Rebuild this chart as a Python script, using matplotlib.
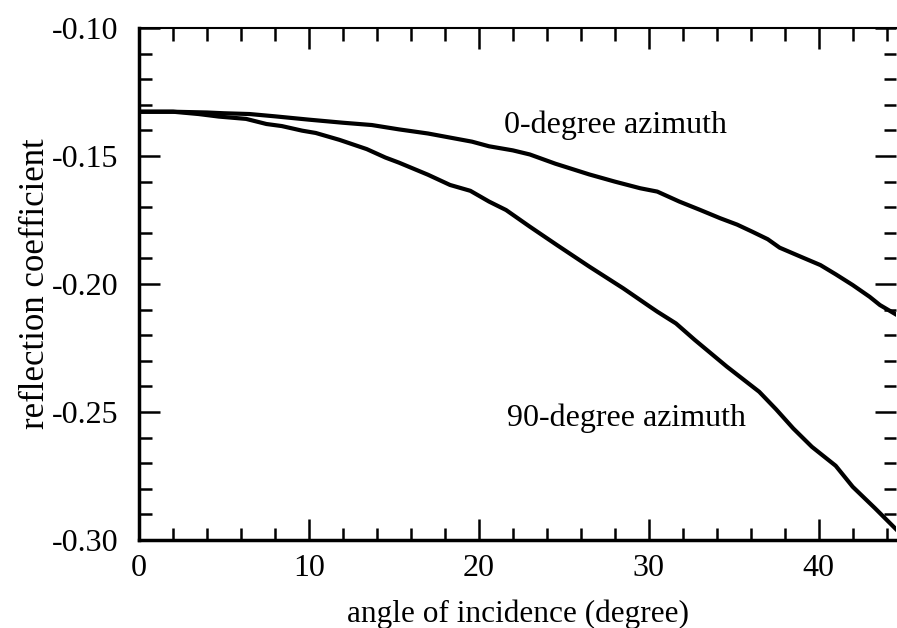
import numpy as np
import matplotlib.pyplot as plt
from matplotlib.ticker import MultipleLocator

# values
x_0deg = [0, 2, 4, 5, 6.5, 8, 10, 12, 13.7, 15.3, 17, 19.6, 20.6, 22, 23, 24.5,
          26.5, 28, 29.5, 30.5, 31.8, 33, 34.2, 35.2, 36.1, 37, 37.7, 39, 40.1,
          41, 42, 43, 43.6, 44.6]
r_0deg = [-0.1327, -0.1327, -0.1330, -0.1333, -0.1336, -0.1345, -0.1358, -0.1370,
          -0.1379, -0.1396, -0.1412, -0.1444, -0.1462, -0.1478, -0.1494, -0.1530,
          -0.1572, -0.1600, -0.1626, -0.1639, -0.1678, -0.1710, -0.1743, -0.1768,
          -0.1796, -0.1825, -0.1858, -0.1895, -0.1926, -0.1962, -0.2004, -0.2050,
          -0.2082, -0.2121]

x_90deg = [0, 2, 3.5, 4.7, 6.3, 7.5, 8.4, 9.6, 10.4, 11.8, 13.4, 14.5, 15.3, 17,
           18.3, 19.5, 20.6, 21.6, 23, 24.6, 26.5, 28.5, 30.1, 30.5, 31.6, 32.7,
           34.6, 36.5, 37.5, 38.5, 39.6, 41, 42, 43.3, 44.6]
r_90deg = [-0.1327, -0.1327, -0.1336, -0.1346, -0.1355, -0.1375, -0.1383, -0.1401,
           -0.1410, -0.1437, -0.1473, -0.1506, -0.1526, -0.1573, -0.1613, -0.1636,
           -0.1678, -0.1711, -0.1776, -0.1848, -0.1932, -0.2017, -0.2090, -0.2108,
           -0.2154, -0.2218, -0.2323, -0.2421, -0.2490, -0.2564, -0.2636, -0.2710,
           -0.2792, -0.2875, -0.2961]

plt.rcParams['font.family'] = ['Liberation Serif', 'DejaVu Serif']

fig = plt.figure(figsize=(8.97, 6.28), dpi=100)
ax = fig.add_axes([0.155, 0.1401, 0.8439, 0.8153])

ax.plot(x_0deg, r_0deg, color='black', lw=3)
ax.plot(x_90deg, r_90deg, color='black', lw=3)

ax.text(34.6, -0.1410, '0-degree azimuth', fontsize=23, va='baseline', ha='right')
ax.text(35.7, -0.2555, '90-degree azimuth', fontsize=23, va='baseline', ha='right')

ax.set_xlim(0, 44.55)
ax.set_ylim(-0.30, -0.10)
ax.xaxis.set_major_locator(MultipleLocator(10))
ax.xaxis.set_minor_locator(MultipleLocator(2))
ax.yaxis.set_major_locator(MultipleLocator(0.05))
ax.yaxis.set_minor_locator(MultipleLocator(0.01))
ax.yaxis.set_major_formatter(plt.FuncFormatter(lambda v, p: f'{v:.2f}'))

ax.tick_params(which='both', direction='in', top=True, right=True,
               labelsize=23, width=1.8)
ax.tick_params(axis='y', pad=15)
ax.tick_params(axis='x', pad=10)
ax.tick_params(which='major', length=15)
ax.tick_params(which='minor', length=9)
ax.spines['right'].set_visible(False)
ax.spines['left'].set_linewidth(2.5)
ax.spines['bottom'].set_linewidth(2.5)
ax.spines['top'].set_linewidth(1.5)

ax.set_xlabel('angle of incidence (degree)', fontsize=22.5, labelpad=12)
ax.set_ylabel('reflection coefficient', fontsize=25, labelpad=0)

fig.savefig('out.png', dpi=100)
